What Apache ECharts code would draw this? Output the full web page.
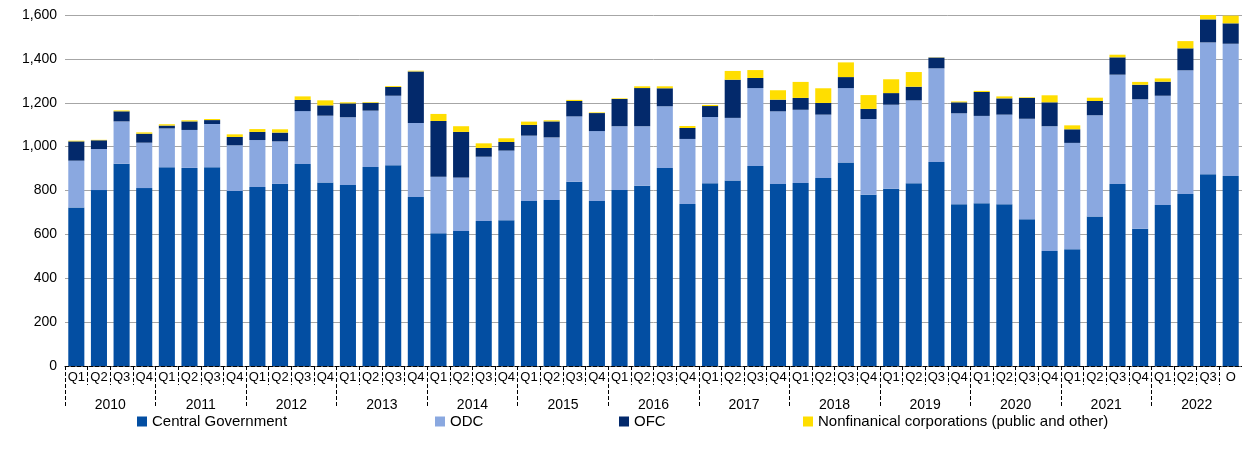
<!DOCTYPE html>
<html>
<head>
<meta charset="utf-8">
<script src="https://cdn.jsdelivr.net/npm/echarts@6/dist/echarts.min.js"></script>
<style>
html, body { margin: 0; padding: 0; background: #fff; }
#chart { width: 1242px; height: 461px; }
</style>
</head>
<body>
<div id="chart"></div>
<script>
// quarters 2010Q1 .. 2022Q4 (last label is cut to "O" in the source)
const quarters = [];
for (let y = 0; y < 13; y++) quarters.push('Q1', 'Q2', 'Q3', 'Q4');
quarters[51] = 'O';
const years = ['2010', '2011', '2012', '2013', '2014', '2015', '2016', '2017', '2018', '2019', '2020', '2021', '2022'];

const centralGov = [723, 802, 922, 811, 906, 903, 906, 798, 816, 830, 921, 837,
    825, 907, 915, 770, 605, 615, 661, 664, 752, 757, 840, 752,
    802, 822, 903, 738, 833, 846, 912, 830, 834, 857, 928, 781,
    808, 833, 930, 737, 742, 737, 669, 524, 532, 682, 830, 626,
    734, 784, 874, 866];
const odc = [213, 187, 193, 207, 177, 173, 197, 208, 214, 194, 241, 304,
    309, 257, 317, 338, 258, 244, 293, 318, 298, 285, 298, 319,
    291, 271, 281, 297, 302, 285, 355, 331, 334, 289, 339, 345,
    383, 378, 427, 415, 398, 409, 458, 569, 485, 461, 498, 590,
    498, 564, 601, 603];
const ofc = [88, 40, 46, 41, 13, 39, 18, 38, 37, 40, 51, 47,
    63, 36, 40, 235, 254, 208, 40, 39, 49, 73, 70, 82,
    124, 174, 82, 50, 50, 174, 46, 53, 54, 53, 50, 46,
    53, 62, 49, 50, 109, 74, 95, 109, 62, 65, 79, 66,
    64, 100, 105, 93];
const nfc = [3, 2, 4, 6, 6, 5, 5, 12, 13, 15, 16, 23,
    5, 3, 4, 3, 32, 26, 21, 17, 15, 5, 5, 3,
    3, 8, 9, 9, 5, 40, 36, 43, 73, 67, 67, 63,
    63, 67, 1, 4, 5, 9, 3, 32, 18, 15, 12, 13,
    15, 33, 22, 35];

const names = ['Central Government', 'ODC', 'OFC', 'Nonfinanical corporations (public and other)'];
const colors = ['#034ea2', '#8aa8e0', '#03296b', '#ffde00'];
const values = [centralGov, odc, ofc, nfc];
const legendLeft = [137, 435, 619, 803];

const font = 'Liberation Sans, Arial, sans-serif';
const chart = echarts.init(document.getElementById('chart'));

const option = {
    animation: false,
    backgroundColor: '#fff',
    textStyle: { fontFamily: font },
    grid: { left: 65, right: 0, top: 15, bottom: 95 },
    legend: names.map((n, i) => ({
        data: [n],
        left: legendLeft[i],
        top: 414,
        padding: 0,
        icon: 'rect',
        itemWidth: 10,
        itemHeight: 10,
        textStyle: { fontSize: 15, color: '#000', fontFamily: font }
    })),
    xAxis: [
        {
            type: 'category',
            data: quarters,
            z: 10,
            axisLine: { show: true, onZero: false, lineStyle: { color: '#000', width: 1, type: 'dashed', dashOffset: 0 } },
            axisTick: { show: true, interval: 0, length: 19, lineStyle: { color: '#000', width: 1, type: 'dashed' } },
            axisLabel: { interval: 0, margin: 5, fontSize: 13, color: '#000', fontFamily: font }
        },
        {
            type: 'category',
            data: years,
            position: 'bottom',
            z: 10,
            axisLine: { show: false, onZero: false },
            axisTick: { show: true, interval: 0, length: 42, lineStyle: { color: '#000', width: 1, type: 'dashed' } },
            axisLabel: { interval: 0, margin: 32, fontSize: 14, color: '#000', fontFamily: font }
        }
    ],
    yAxis: {
        type: 'value',
        min: 0,
        max: 1600,
        interval: 200,
        axisLine: { show: false },
        axisTick: { show: false },
        splitLine: { lineStyle: { color: '#a6a6a6', width: 1 } },
        axisLabel: {
            margin: 8,
            fontSize: 14,
            color: '#000',
            fontFamily: font,
            formatter: v => v.toLocaleString('en-US')
        }
    },
    series: names.map((n, i) => ({
        name: n,
        type: 'bar',
        stack: 'total',
        xAxisIndex: 0,
        barCategoryGap: '29%',
        data: values[i],
        itemStyle: { color: colors[i] }
    }))
};
chart.setOption(option);
</script>
</body>
</html>
